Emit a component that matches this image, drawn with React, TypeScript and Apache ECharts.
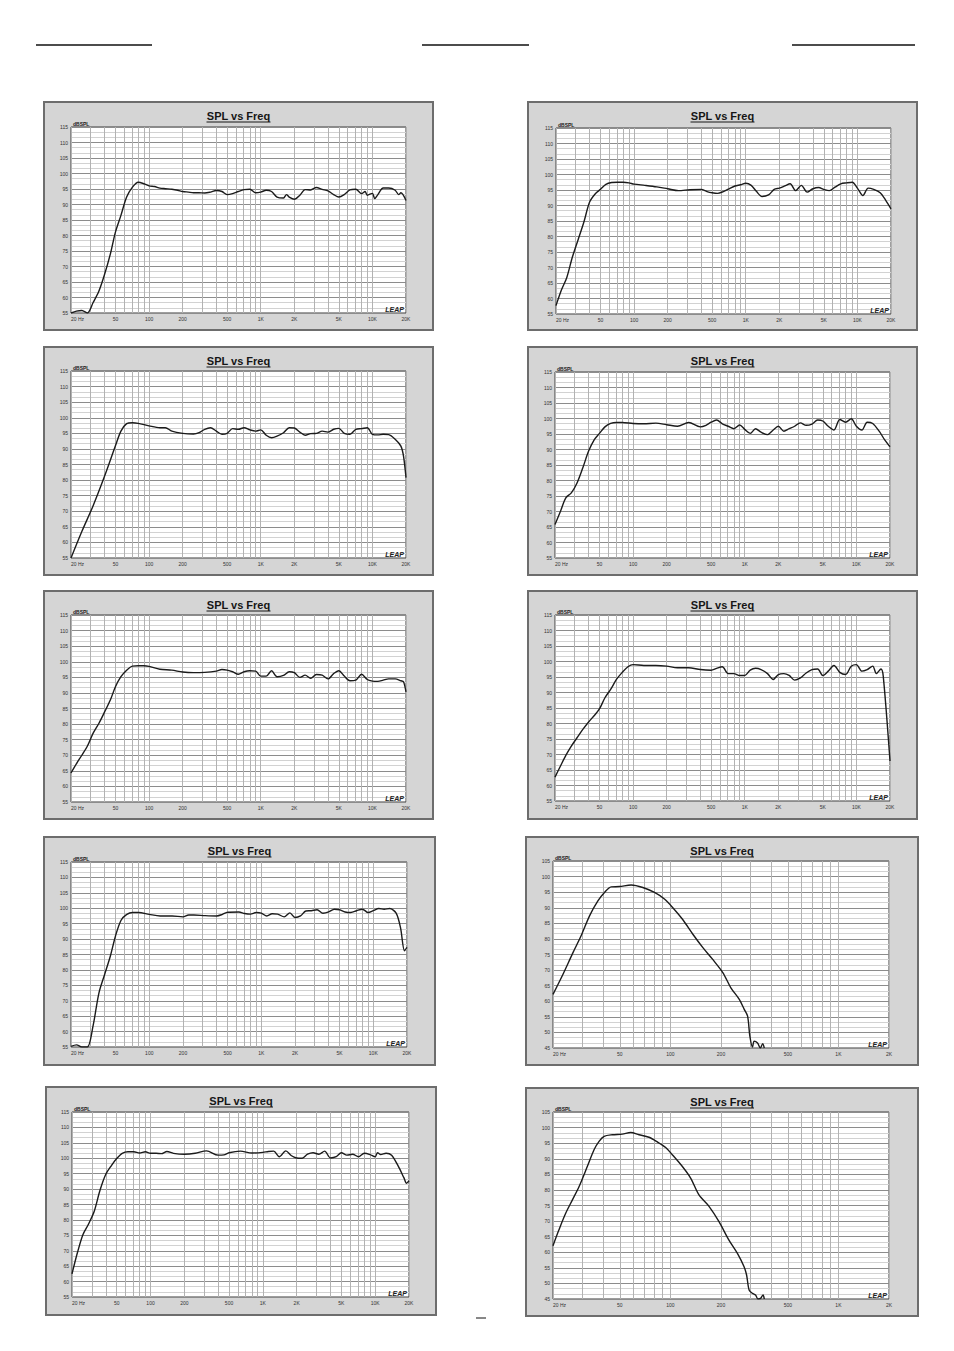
import React, { useEffect, useRef } from "react";
import * as echarts from "echarts";

// ---------- axis definitions ----------
const wideGridFreqs = [20, 30, 40, 50, 60, 70, 80, 90, 100, 200, 300, 400, 500, 600, 700, 800, 900, 1000, 2000, 3000, 4000, 5000, 6000, 7000, 8000, 9000, 10000, 20000];
const wideLabelFreqs = [20, 50, 100, 200, 500, 1000, 2000, 5000, 10000, 20000];
const lowGridFreqs = [20, 30, 40, 50, 60, 70, 80, 90, 100, 200, 300, 400, 500, 600, 700, 800, 900, 1000, 2000];
const lowLabelFreqs = [20, 50, 100, 200, 500, 1000, 2000];
const wideDbRange = [55, 115];
const lowDbRange = [45, 105];

// ---------- measured curves (Hz, dB SPL) ----------
const freq1 = [20, 22.4, 25, 28, 31.5, 35.5, 40, 45, 50, 56, 63, 71, 80, 90, 100, 112, 125, 140, 160, 180, 200, 225, 250, 280, 315, 355, 400, 450, 500, 560, 630, 710, 800, 900, 1000, 1120, 1250, 1400, 1600, 1700, 1800, 2000, 2240, 2500, 2800, 3150, 3550, 4000, 4500, 5000, 5600, 6300, 7100, 8000, 8600, 9000, 10000, 10500, 11200, 12500, 14000, 16000, 17200, 18000, 20000];
const spl1 = [55.0, 55.6, 55.8, 55.0, 58.3, 62.0, 67.5, 74.0, 81.1, 86.5, 92.4, 95.6, 97.2, 96.7, 96.0, 95.8, 95.3, 95.1, 94.9, 94.6, 94.2, 94.0, 93.8, 93.8, 93.7, 94.0, 94.5, 94.2, 93.2, 93.5, 94.2, 94.8, 94.9, 93.8, 94.0, 94.6, 94.2, 92.4, 92.1, 93.2, 92.4, 91.7, 93.0, 94.8, 94.7, 95.5, 94.9, 94.4, 93.2, 92.4, 93.2, 94.7, 94.9, 93.5, 94.2, 93.0, 93.6, 91.9, 93.2, 95.3, 95.3, 94.6, 93.2, 93.8, 91.3];

const freq2 = [20, 22.4, 25, 28, 31.5, 35.5, 40, 45, 50, 56, 63, 71, 80, 90, 100, 125, 160, 200, 250, 315, 400, 450, 500, 560, 630, 710, 800, 900, 1000, 1120, 1250, 1400, 1600, 1800, 2000, 2240, 2500, 2800, 3150, 3550, 4000, 4500, 5000, 5600, 6300, 7100, 8000, 9000, 10000, 11200, 12500, 14000, 16000, 18000, 20000];
const spl2 = [57.7, 62.8, 66.8, 73.3, 78.9, 84.6, 91.1, 93.8, 95.2, 96.8, 97.4, 97.5, 97.5, 97.3, 96.9, 96.5, 96.0, 95.4, 94.8, 95.1, 95.2, 94.5, 94.1, 93.9, 94.5, 95.4, 96.3, 96.7, 97.2, 96.5, 94.5, 92.9, 93.4, 95.2, 95.6, 96.3, 97.0, 94.8, 96.5, 94.3, 95.4, 95.8, 95.2, 94.8, 95.9, 97.0, 97.3, 97.5, 95.6, 93.2, 95.6, 95.2, 94.1, 91.6, 88.9];

const freq3 = [20, 25, 31.5, 40, 50, 56, 63, 71, 80, 100, 125, 140, 160, 200, 250, 280, 315, 355, 400, 450, 500, 560, 630, 710, 800, 900, 1000, 1120, 1250, 1400, 1600, 1800, 2000, 2240, 2500, 2800, 3150, 3550, 4000, 4500, 5000, 5600, 6300, 7100, 8000, 9000, 10000, 11200, 12500, 14000, 16000, 18000, 19000, 20000];
const spl3 = [55.0, 63.5, 71.7, 81.3, 91.0, 95.7, 98.1, 98.4, 98.2, 97.4, 96.8, 96.8, 95.7, 95.0, 94.8, 95.2, 96.3, 96.8, 95.7, 94.7, 95.0, 96.5, 96.3, 96.8, 96.1, 95.7, 96.1, 94.4, 93.6, 94.1, 95.2, 96.8, 96.7, 95.4, 94.4, 94.9, 95.0, 95.7, 95.4, 96.3, 96.6, 95.0, 94.7, 96.3, 96.5, 96.8, 94.7, 94.5, 94.7, 94.6, 93.1, 90.9, 87.7, 80.8];

const freq4 = [20, 22.4, 25, 28, 31.5, 35.5, 40, 45, 50, 56, 63, 71, 80, 100, 125, 160, 200, 250, 315, 400, 450, 500, 560, 630, 710, 800, 900, 1000, 1120, 1250, 1400, 1600, 1800, 2000, 2240, 2500, 2800, 3150, 3550, 4000, 4500, 5000, 5600, 6300, 7100, 8000, 9000, 10000, 11200, 12500, 14000, 16000, 18000, 20000];
const spl4 = [65.8, 70.1, 74.4, 76.0, 79.2, 84.1, 89.5, 93.2, 95.2, 97.3, 98.4, 98.7, 98.7, 98.4, 98.3, 98.5, 98.0, 97.5, 98.7, 97.3, 97.8, 98.8, 99.5, 98.3, 97.5, 96.7, 97.9, 96.5, 95.2, 96.7, 95.6, 94.8, 96.3, 97.5, 95.9, 96.7, 97.5, 98.6, 97.8, 98.2, 99.5, 99.2, 97.5, 96.3, 99.7, 98.8, 99.9, 97.5, 96.3, 98.8, 98.4, 95.9, 93.0, 90.9];

const freq5 = [20, 22.4, 25, 28, 31.5, 35.5, 40, 45, 50, 56, 63, 71, 80, 90, 100, 125, 160, 200, 250, 315, 400, 450, 500, 560, 630, 710, 800, 900, 1000, 1120, 1250, 1400, 1600, 1800, 2000, 2240, 2500, 2800, 3150, 3550, 4000, 4500, 5000, 5600, 6300, 7100, 8000, 9000, 10000, 11200, 12500, 14000, 16000, 18000, 19000, 20000];
const spl5 = [64.3, 67.3, 70.0, 72.9, 77.0, 80.2, 83.9, 87.7, 92.0, 95.2, 97.3, 98.6, 98.7, 98.7, 98.5, 97.6, 97.3, 96.7, 96.5, 96.6, 97.0, 97.5, 97.3, 96.8, 96.0, 96.8, 97.1, 97.0, 95.4, 95.4, 97.1, 95.2, 95.6, 96.8, 96.5, 95.0, 95.7, 94.7, 95.9, 95.7, 94.5, 96.2, 97.1, 95.4, 93.9, 94.1, 96.0, 94.3, 93.8, 93.7, 94.1, 94.5, 94.5, 93.9, 93.6, 90.3];

const freq6 = [20, 22.4, 25, 28, 31.5, 35.5, 40, 45, 50, 56, 63, 71, 80, 90, 100, 125, 160, 200, 250, 315, 400, 500, 560, 630, 710, 800, 900, 1000, 1120, 1250, 1400, 1600, 1800, 2000, 2240, 2500, 2800, 3150, 3550, 4000, 4500, 5000, 5600, 6300, 7100, 8000, 9000, 10000, 11200, 12500, 14000, 15100, 16600, 17400, 20000];
const spl6 = [62.7, 66.3, 69.7, 72.7, 75.4, 78.1, 80.5, 82.6, 84.7, 88.3, 91.0, 94.2, 96.5, 98.3, 99.0, 98.7, 98.7, 98.5, 98.0, 98.0, 97.4, 97.2, 97.8, 98.3, 96.1, 96.1, 95.5, 95.5, 97.2, 97.8, 97.4, 96.1, 94.2, 95.8, 96.1, 95.5, 94.0, 94.7, 96.3, 97.4, 97.6, 95.5, 96.9, 98.7, 96.5, 95.8, 98.5, 99.0, 96.9, 97.4, 98.5, 96.1, 97.6, 95.3, 67.9];

const freq7 = [20, 22.4, 25, 28, 31.5, 35.5, 40, 45, 50, 56, 63, 71, 80, 100, 125, 160, 200, 225, 250, 315, 400, 450, 500, 630, 710, 800, 900, 1000, 1120, 1250, 1400, 1600, 1800, 2000, 2240, 2500, 2800, 3150, 3550, 4000, 4500, 5000, 5600, 6300, 7100, 8000, 9000, 10000, 11200, 12500, 14000, 16000, 17500, 19000, 20000];
const spl7 = [55.2, 55.7, 55.0, 55.0, 61.9, 72.5, 78.6, 84.6, 91.1, 96.1, 98.0, 98.6, 98.6, 98.0, 97.5, 97.5, 97.2, 97.8, 97.8, 97.6, 97.5, 98.0, 98.7, 98.8, 98.3, 98.1, 98.6, 98.4, 97.5, 98.2, 98.1, 97.2, 98.5, 97.0, 97.5, 99.1, 99.2, 99.5, 98.4, 98.8, 99.7, 99.5, 98.8, 98.6, 99.2, 99.7, 98.6, 99.2, 99.9, 99.7, 99.9, 98.4, 93.7, 86.2, 87.3];

const freq8 = [20, 22.9, 26.3, 29.4, 33, 37, 40.5, 44.4, 49.8, 58.4, 68.5, 80.4, 92.1, 103, 118, 136, 156, 178, 205, 229, 257, 275, 288, 297, 308, 315, 330, 343, 354, 362];
const spl8 = [62.2, 68.6, 75.6, 81.0, 87.4, 92.2, 94.9, 96.7, 96.8, 97.3, 96.5, 94.9, 92.8, 90.1, 86.3, 81.5, 77.2, 73.5, 69.2, 64.3, 60.6, 57.4, 55.2, 48.8, 45.3, 47.2, 46.6, 45.0, 46.4, 45.0];

const freq9 = [20, 22.4, 25, 28, 31.5, 35.5, 40, 45, 50, 56, 63, 71, 80, 90, 100, 112, 125, 140, 160, 200, 250, 315, 400, 450, 500, 630, 800, 1000, 1120, 1250, 1400, 1600, 1800, 2000, 2240, 2500, 2800, 3150, 3550, 4000, 4500, 5000, 5600, 6300, 7100, 8000, 9000, 10000, 10500, 11200, 12500, 14000, 16000, 18000, 19000, 20000];
const spl9 = [62.5, 69.5, 75.2, 78.6, 82.7, 89.6, 94.8, 97.7, 99.9, 101.6, 102.1, 102.1, 101.7, 102.1, 101.6, 101.6, 101.5, 102.2, 101.6, 101.3, 101.6, 102.4, 101.0, 101.1, 101.8, 102.3, 101.7, 101.9, 102.2, 102.3, 100.5, 102.4, 100.8, 100.1, 100.0, 101.3, 101.8, 101.3, 102.3, 100.1, 100.5, 101.8, 101.0, 101.3, 100.5, 101.6, 101.2, 100.5, 101.8, 101.2, 101.6, 101.0, 97.5, 93.7, 91.9, 92.7];

const freq10 = [20, 21.7, 23.8, 26.1, 28.6, 32, 35.1, 37.6, 40.3, 45.1, 51.7, 58, 65, 74.5, 83.6, 93.7, 102.6, 117.8, 131.9, 147.9, 169.7, 194.6, 223, 250, 274, 284, 294, 308, 321, 332, 344, 356, 362];
const spl10 = [62.1, 67.2, 72.5, 76.8, 81.1, 87.5, 92.9, 95.6, 97.2, 97.7, 97.9, 98.4, 97.7, 96.9, 95.4, 93.6, 91.3, 87.5, 83.8, 78.4, 74.7, 69.8, 63.9, 59.7, 55.4, 52.7, 47.9, 46.8, 46.3, 45.0, 45.2, 46.3, 45.0];

// ---------- layout (frame: x,y,w,h ; plot: left,top,w,h) ----------
const panels = [
  { frame: [44, 102, 389, 228], plot: [71, 127, 335, 186], freq: freq1, spl: spl1, low: false },
  { frame: [528, 102, 389, 228], plot: [556, 128, 335, 186], freq: freq2, spl: spl2, low: false },
  { frame: [44, 347, 389, 228], plot: [71, 371, 335, 187], freq: freq3, spl: spl3, low: false },
  { frame: [528, 347, 389, 228], plot: [555, 372, 335, 186], freq: freq4, spl: spl4, low: false },
  { frame: [44, 591, 389, 228], plot: [71, 615, 335, 187], freq: freq5, spl: spl5, low: false },
  { frame: [528, 591, 389, 228], plot: [555, 615, 335, 186], freq: freq6, spl: spl6, low: false },
  { frame: [44, 837, 391, 228], plot: [71, 862, 336, 185], freq: freq7, spl: spl7, low: false },
  { frame: [526, 837, 392, 228], plot: [553, 861, 336, 187], freq: freq8, spl: spl8, low: true },
  { frame: [46, 1087, 390, 228], plot: [72, 1112, 337, 185], freq: freq9, spl: spl9, low: false },
  { frame: [526, 1088, 392, 228], plot: [553, 1112, 336, 187], freq: freq10, spl: spl10, low: true },
];

const FONT = '"Liberation Sans", Arial, Helvetica, sans-serif';
const LOG = (f: number) => Math.log10(f);
const fmtFreq = (v: number) => {
  const f = Math.round(Math.pow(10, v));
  if (f === 20) return "20 Hz";
  return f >= 1000 ? f / 1000 + "K" : String(f);
};

function buildOption() {
  const grid: any[] = [];
  const xAxis: any[] = [];
  const yAxis: any[] = [];
  const series: any[] = [];
  const graphic: any[] = [];

  // header rules
  [[36, 152], [422, 529], [792, 915]].forEach(([a, b]) => {
    graphic.push({ type: "line", silent: true, shape: { x1: a, y1: 45, x2: b, y2: 45 }, style: { stroke: "#111", lineWidth: 1.5 } });
  });
  graphic.push({ type: "line", silent: true, shape: { x1: 476, y1: 1318, x2: 486, y2: 1318 }, style: { stroke: "#111", lineWidth: 1 } });

  panels.forEach((p, i) => {
    const [fx, fy, fw, fh] = p.frame;
    const [px, py, pw, ph] = p.plot;
    const cx = fx + fw / 2;
    graphic.push({
      type: "rect", silent: true, z: -10,
      shape: { x: fx, y: fy, width: fw, height: fh },
      style: { fill: "#d5d5d5", stroke: "#6d6d6d", lineWidth: 2 },
    });
    graphic.push({
      type: "text", silent: true, x: cx, y: fy + 14,
      style: { text: "SPL vs Freq", font: `bold 11px ${FONT}`, fill: "#161616", textAlign: "center", textVerticalAlign: "middle" },
    });
    graphic.push({
      type: "line", silent: true,
      shape: { x1: cx - 32, y1: fy + 20, x2: cx + 32, y2: fy + 20 },
      style: { stroke: "#161616", lineWidth: 1 },
    });
    graphic.push({
      type: "text", silent: true, x: px + 2, y: py - 3,
      style: { text: "dBSPL", font: `bold 5px ${FONT}`, fill: "#222", textAlign: "left", textVerticalAlign: "middle" },
    });
    graphic.push({
      type: "text", silent: true, z: 10, x: px + pw - 2, y: py + ph - 4,
      style: { text: "LEAP", font: `italic bold 7px ${FONT}`, fill: "#222", textAlign: "right", textVerticalAlign: "middle" },
    });

    const gf = p.low ? lowGridFreqs : wideGridFreqs;
    const lf = p.low ? lowLabelFreqs : wideLabelFreqs;
    const yr = p.low ? lowDbRange : wideDbRange;

    grid.push({ left: px, top: py, width: pw, height: ph, show: true, backgroundColor: "#ffffff", borderColor: "#3c3c3c", borderWidth: 1 });
    xAxis.push({
      type: "value", gridIndex: i,
      min: LOG(20), max: LOG(p.low ? 2000 : 20000),
      axisLine: { show: false },
      axisTick: { show: false, customValues: gf.map(LOG) },
      splitLine: { show: true, lineStyle: { color: "#b2b2b2", width: 1 } },
      axisLabel: {
        customValues: lf.map(LOG), formatter: fmtFreq, fontSize: 5, color: "#333",
        margin: 3, showMinLabel: true, showMaxLabel: true, alignMinLabel: "left", fontFamily: FONT,
      },
    });
    yAxis.push({
      type: "value", gridIndex: i, min: yr[0], max: yr[1], interval: 5,
      axisLine: { show: false }, axisTick: { show: false },
      splitLine: { show: true, lineStyle: { color: "#8c8c8c", width: 1 } },
      minorTick: { show: false, splitNumber: 3 },
      minorSplitLine: { show: true, lineStyle: { color: "#d2d2d2", width: 1 } },
      axisLabel: { fontSize: 5, color: "#333", margin: 3, fontFamily: FONT },
    });
    series.push({
      type: "line", xAxisIndex: i, yAxisIndex: i,
      data: p.freq.map((f, k) => [LOG(f), p.spl[k]]),
      showSymbol: false, smooth: 0.3, clip: true, silent: true,
      lineStyle: { color: "#1b1b1b", width: 1.4 },
    });
  });

  return { animation: false, textStyle: { fontFamily: FONT }, grid, xAxis, yAxis, series, graphic };
}

export default function App() {
  const ref = useRef<HTMLDivElement>(null);
  useEffect(() => {
    if (!ref.current) return;
    const chart = echarts.init(ref.current, undefined, { renderer: "svg" });
    chart.setOption(buildOption());
    return () => chart.dispose();
  }, []);
  return (
    <div
      ref={ref}
      style={{ position: "absolute", left: 0, top: 0, width: 954, height: 1351, background: "#ffffff" }}
    />
  );
}
